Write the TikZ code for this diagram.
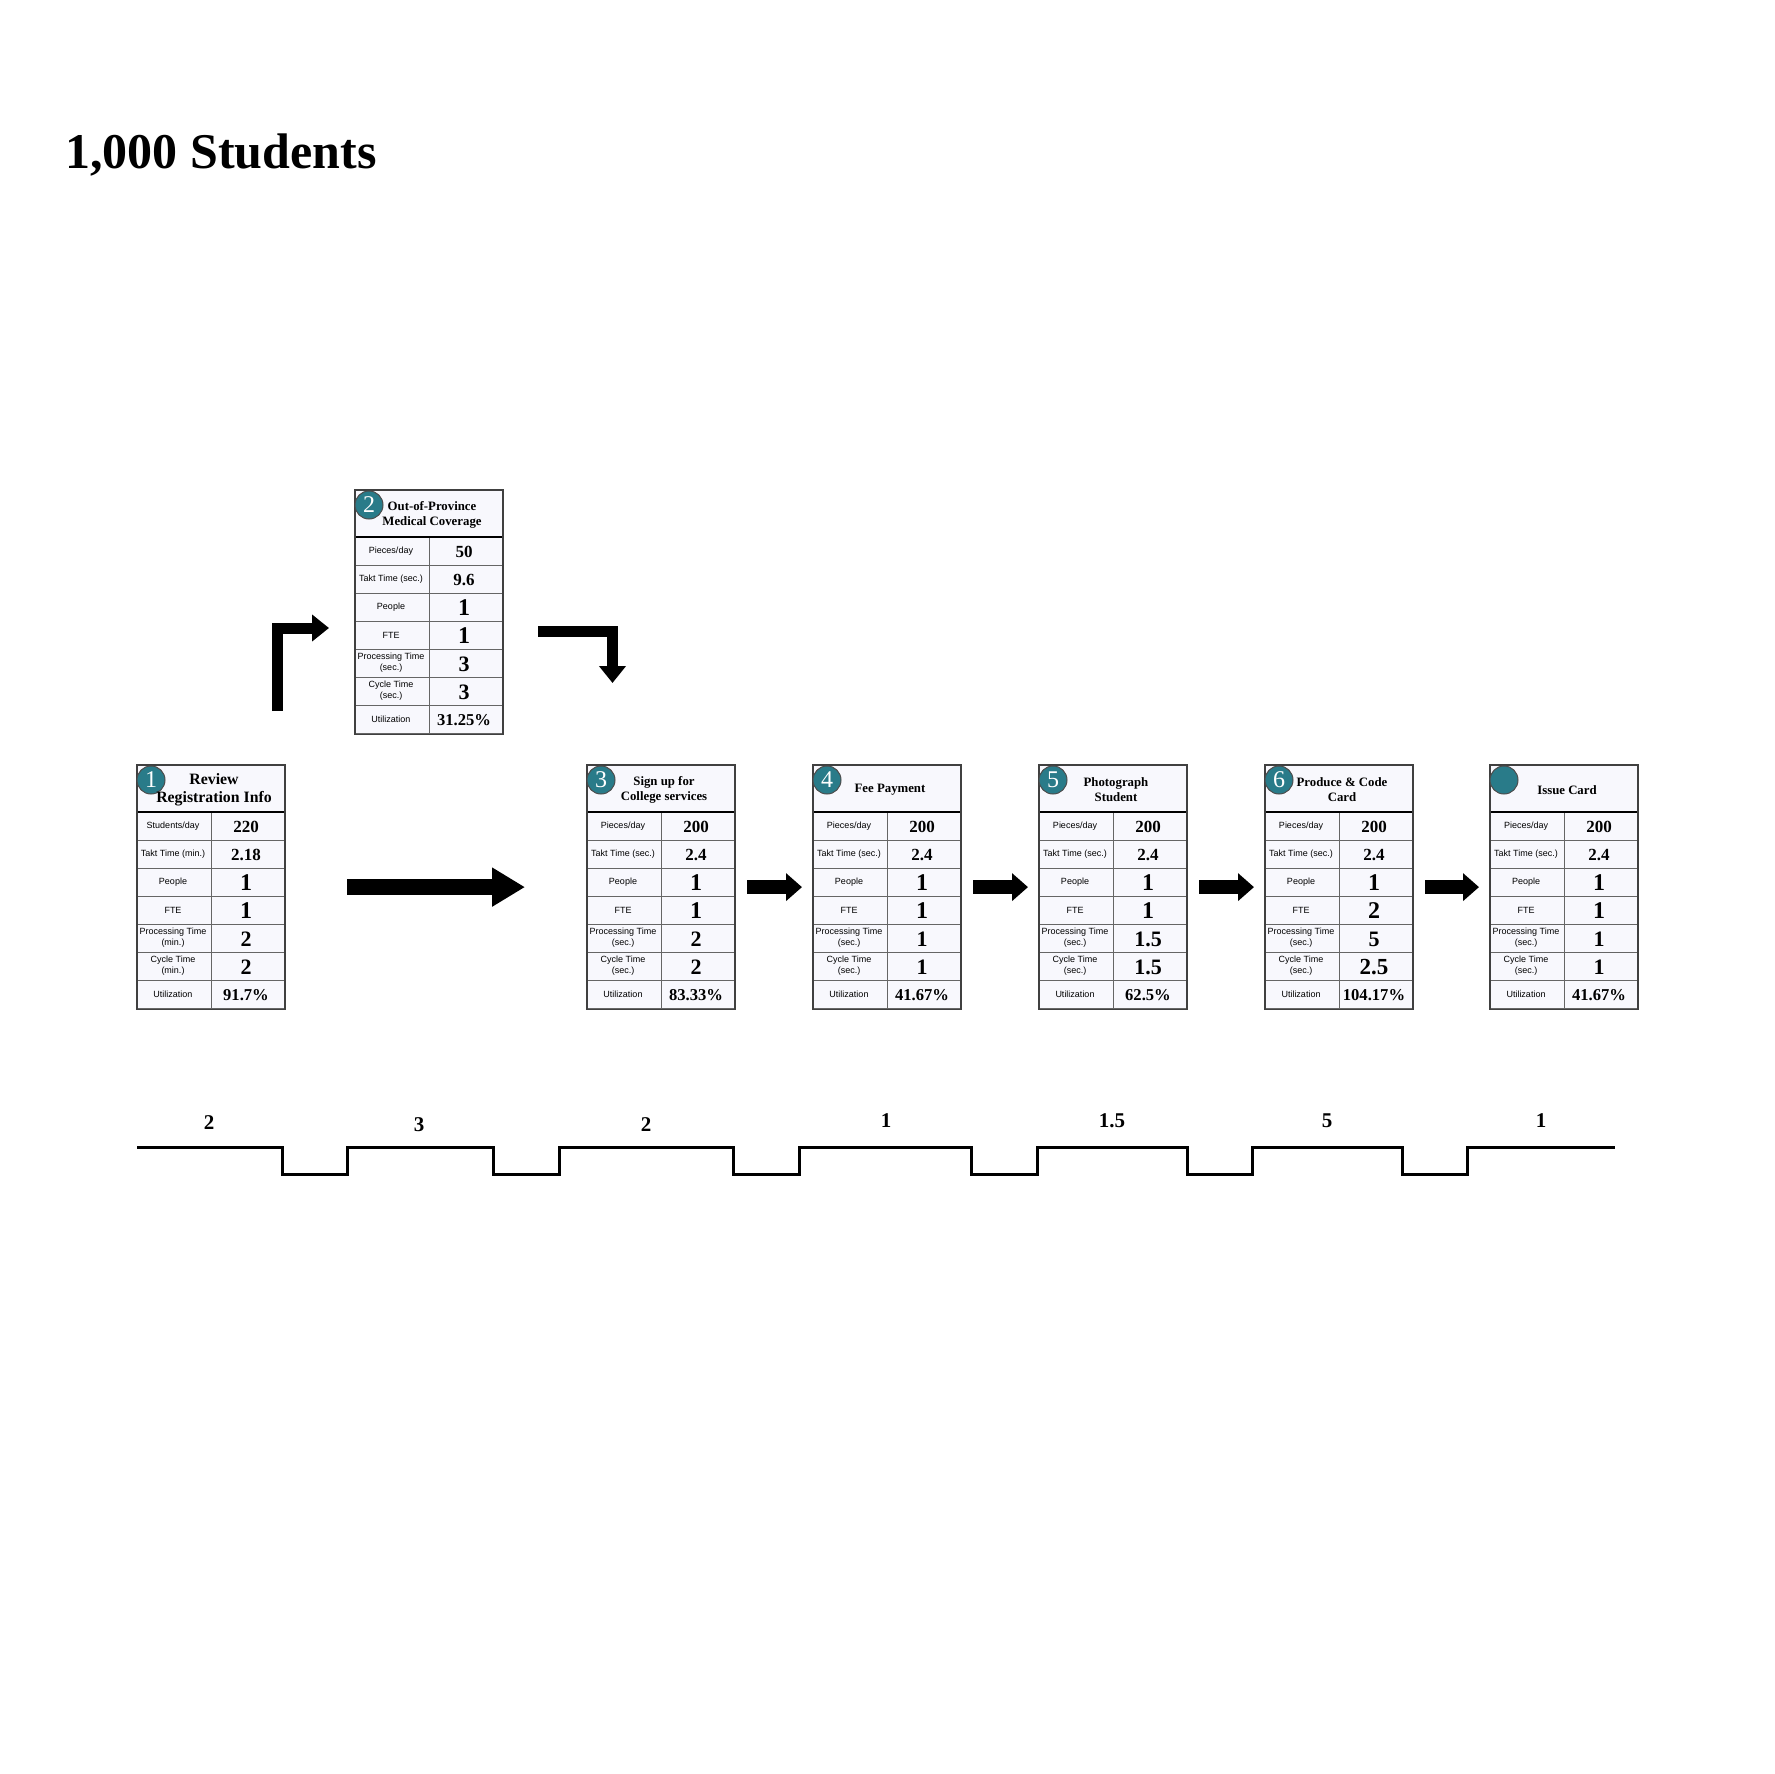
\documentclass[tikz,border=0pt]{standalone}
\usepackage{fontspec}
\setmainfont{Liberation Serif}
\setsansfont{Liberation Sans}
\usetikzlibrary{arrows.meta}

\definecolor{badgeteal}{RGB}{41,123,137}
\definecolor{cardfill}{RGB}{248,248,253}

\tikzset{
  cardframe/.style={draw=black!75, line width=0.6pt, fill=cardfill, minimum width=73.5pt, minimum height=121.5pt, inner sep=0pt},
  cardgrid/.style={draw=black!60, line width=0.5pt},
  cardrule/.style={draw=black, line width=1.4pt},
  badge/.style={circle, draw=black!70, line width=0.5pt, fill=badgeteal, minimum size=14pt, inner sep=0pt, text=white, font=\fontsize{12}{12}\selectfont},
  hdr/.style={align=center, inner sep=0pt, font=\fontsize{6.4}{7.5}\selectfont\bfseries},
  hdrbig/.style={align=center, inner sep=0pt, font=\fontsize{7.9}{9}\selectfont\bfseries},
  rowlabel/.style={align=center, inner sep=0pt, font=\sffamily\fontsize{4.5}{5.5}\selectfont},
  rowvalue/.style={inner sep=0pt, font=\bfseries},
  flowarrow/.style={line width=7pt, -{Triangle[length=8pt, width=13.5pt]}, shorten <=6pt, shorten >=5.5pt},
  bigarrow/.style={line width=8pt, -{Triangle[length=16.5pt, width=18.5pt]}, shorten <=31pt, shorten >=31pt},
  bendarrow/.style={line width=5.5pt, line join=miter, -{Triangle[length=8.5pt, width=13pt]}},
  stepline/.style={line width=1.5pt},
  steplabel/.style={inner sep=0pt, font=\fontsize{10.5}{10.5}\selectfont\bfseries},
  pagetitle/.style={inner sep=0pt, font=\fontsize{25}{30}\selectfont\bfseries}
}

\newcommand{\card}[7]{%
  \begin{scope}[shift={(#2,#3)}]
    \node[cardframe, anchor=north west] (#1) at (0,0) {};
    \foreach \lab/\val/\sz [count=\i] in {#7} {
      \node[rowlabel] (#1l\i) at (36,33+28*\i) {\lab};
      \node[rowvalue] (#1v\i) at (109,34+28*\i) {\fontsize{\sz}{\sz}\selectfont\val};
      \draw[cardgrid] (0,47+28*\i) -- (147,47+28*\i);
    }
    \draw[cardgrid] (74,47) -- (74,243);
    \draw[cardrule] (0,47) -- (147,47);
    \draw[draw=black!75, line width=0.6pt] (#1.north west) rectangle (#1.south east);
    \node[badge] (#1n) at (14,15) {#4};
    \node[#6] (#1h) at (77,25) {#5};
  \end{scope}}

\begin{document}
\begin{tikzpicture}[x=0.5pt, y=-0.5pt]
  \useasboundingbox (0,0) rectangle (1774,1774);
  \node[pagetitle, anchor=base west] (head) at (65,168) {1,000 Students};

  \card{b1}{137}{765}{1}{Review\\Registration Info}{hdrbig}{{Students/day}/220/8.5, {Takt Time (min.)}/2.18/8.5, People/1/12, FTE/1/12, {Processing Time\\(min.)}/2/11, {Cycle Time\\(min.)}/2/11, Utilization/91.7\%/8.3}
  \card{b2}{355}{490}{2}{Out-of-Province\\Medical Coverage}{hdr}{{Pieces/day}/50/8.5, {Takt Time (sec.)}/9.6/8.5, People/1/12, FTE/1/12, {Processing Time\\(sec.)}/3/11, {Cycle Time\\(sec.)}/3/11, Utilization/31.25\%/8.3}
  \card{b3}{587}{765}{3}{Sign up for\\College services}{hdr}{{Pieces/day}/200/8.5, {Takt Time (sec.)}/2.4/8.5, People/1/12, FTE/1/12, {Processing Time\\(sec.)}/2/11, {Cycle Time\\(sec.)}/2/11, Utilization/83.33\%/8.3}
  \card{b4}{813}{765}{4}{Fee Payment}{hdr}{{Pieces/day}/200/8.5, {Takt Time (sec.)}/2.4/8.5, People/1/12, FTE/1/12, {Processing Time\\(sec.)}/1/11, {Cycle Time\\(sec.)}/1/11, Utilization/41.67\%/8.3}
  \card{b5}{1039}{765}{5}{Photograph\\Student}{hdr}{{Pieces/day}/200/8.5, {Takt Time (sec.)}/2.4/8.5, People/1/12, FTE/1/12, {Processing Time\\(sec.)}/1.5/11, {Cycle Time\\(sec.)}/1.5/11, Utilization/62.5\%/8.3}
  \card{b6}{1265}{765}{6}{Produce \& Code\\Card}{hdr}{{Pieces/day}/200/8.5, {Takt Time (sec.)}/2.4/8.5, People/1/12, FTE/2/12, {Processing Time\\(sec.)}/5/11, {Cycle Time\\(sec.)}/2.5/11.5, Utilization/104.17\%/8.3}
  \card{b7}{1490}{765}{}{Issue Card}{hdr}{{Pieces/day}/200/8.5, {Takt Time (sec.)}/2.4/8.5, People/1/12, FTE/1/12, {Processing Time\\(sec.)}/1/11, {Cycle Time\\(sec.)}/1/11, Utilization/41.67\%/8.3}

  \coordinate (up0) at (277.5,711);
  \coordinate (up1) at (329,628);
  \coordinate (dn0) at (538,631.5);
  \coordinate (dn1) at (612.5,683);

  \draw[bendarrow] (up0) |- (up1);
  \draw[bendarrow] (dn0) -| (dn1);
  \draw[bigarrow] (b1.east) -- (b3.west);
  \draw[flowarrow] (b3.east) -- (b4.west);
  \draw[flowarrow] (b4.east) -- (b5.west);
  \draw[flowarrow] (b5.east) -- (b6.west);
  \draw[flowarrow] (b6.east) -- (b7.west);

  \draw[stepline] (137,1147) -- (282,1147) -- (282,1174) -- (347,1174) -- (347,1147)
    -- (493,1147) -- (493,1174) -- (559,1174) -- (559,1147)
    -- (733,1147) -- (733,1174) -- (799,1174) -- (799,1147)
    -- (971,1147) -- (971,1174) -- (1037,1174) -- (1037,1147)
    -- (1187,1147) -- (1187,1174) -- (1252,1174) -- (1252,1147)
    -- (1402,1147) -- (1402,1174) -- (1467,1174) -- (1467,1147)
    -- (1615,1147);

  \node[steplabel] (s1) at (209,1123) {2};
  \node[steplabel] (s2) at (419,1125) {3};
  \node[steplabel] (s3) at (646,1125) {2};
  \node[steplabel] (s4) at (886,1121) {1};
  \node[steplabel] (s5) at (1112,1121) {1.5};
  \node[steplabel] (s6) at (1327,1121) {5};
  \node[steplabel] (s7) at (1541,1121) {1};
\end{tikzpicture}
\end{document}
